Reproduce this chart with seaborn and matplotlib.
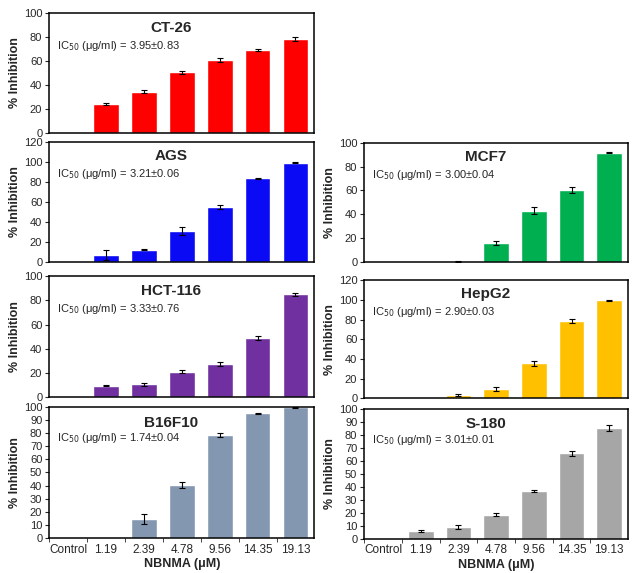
# -*- coding: utf-8 -*-
import numpy as np
import pandas as pd
import matplotlib
matplotlib.use('Agg')
import matplotlib.pyplot as plt
import seaborn as sns

# 濃度 (x 軸類別)
doses = ['Control', '1.19', '2.39', '4.78', '9.56', '14.35', '19.13']

# 各細胞株 % Inhibition 平均值與誤差
ct26 = [0, 24, 34.5, 50.5, 61, 69.5, 78.5]
ct26_err = [0, 1.0, 1.5, 1.0, 1.5, 1.0, 1.5]
ags = [0, 7, 12, 31, 55, 84, 99.5]
ags_err = [0, 5, 0.5, 4, 2, 0.5, 0.3]
hct116 = [0, 9.5, 10.5, 21, 27.5, 49, 85]
hct116_err = [0, 0.5, 1, 1, 1.5, 1.5, 1.5]
b16f10 = [0, 0, 14.5, 40.5, 78.5, 95, 99.5]
b16f10_err = [0, 0, 3.5, 2.5, 1.5, 0.5, 0.5]
mcf7 = [0, 0.5, 0.3, 16, 43, 60.5, 91.5]
mcf7_err = [0, 0, 0.3, 1.5, 3, 2.5, 0.3]
hepg2 = [0, 0.5, 3, 9, 35.5, 78.5, 99.5]
hepg2_err = [0, 0, 1, 2, 2.5, 2, 0.5]
s180 = [0, 6, 9, 18.5, 36.5, 65.5, 85]
s180_err = [0, 1, 1.5, 1, 1, 2, 2]

ic50 = {'CT-26': '3.95±0.83', 'AGS': '3.21±0.06', 'HCT-116': '3.33±0.76',
        'B16F10': '1.74±0.04', 'MCF7': '3.00±0.04', 'HepG2': '2.90±0.03',
        'S-180': '3.01±0.01'}

sns.set_style('white')
plt.rcParams['font.family'] = ['Liberation Sans', 'DejaVu Sans']

fig = plt.figure(figsize=(6.39, 5.73), dpi=100)

# (名稱, 值, 誤差, 顏色, 位置, y上限, y刻度間隔, 是否底部)
panels = [
    ('CT-26', ct26, ct26_err, '#FF0000', [0.077, 0.768, 0.415, 0.209], 100, 20, False),
    ('AGS', ags, ags_err, '#0A0AF5', [0.077, 0.543, 0.415, 0.209], 120, 20, False),
    ('HCT-116', hct116, hct116_err, '#7030A0', [0.077, 0.307, 0.415, 0.211], 100, 20, False),
    ('B16F10', b16f10, b16f10_err, '#8497B0', [0.077, 0.061, 0.415, 0.229], 100, 10, True),
    ('MCF7', mcf7, mcf7_err, '#00B050', [0.570, 0.543, 0.413, 0.208], 100, 20, False),
    ('HepG2', hepg2, hepg2_err, '#FFC000', [0.570, 0.305, 0.413, 0.206], 120, 20, False),
    ('S-180', s180, s180_err, '#A6A6A6', [0.570, 0.060, 0.413, 0.227], 100, 10, True),
]

for name, vals, errs, color, pos, ymax, step, bottom in panels:
    ax = fig.add_axes(pos)
    df = pd.DataFrame({'dose': doses, 'inh': vals, 'err': errs})
    sns.barplot(data=df, x='dose', y='inh', color=color, saturation=1,
                width=0.68, errorbar=None, ax=ax)
    idx = np.flatnonzero(df['err'] > 0)
    ax.errorbar(idx, df['inh'].values[idx], yerr=df['err'].values[idx], fmt='none',
                ecolor='black', elinewidth=0.8, capsize=2, capthick=0.8)
    ax.set_xlim(-0.5, 6.5)
    ax.set_ylim(0, ymax)
    ax.set_yticks(np.arange(0, ymax + 1, step))
    ax.tick_params(axis='y', labelsize=8, length=3, width=0.8, direction='out', pad=2, left=True)
    for s in ax.spines.values():
        s.set_color('black')
        s.set_linewidth(1.1)
    ax.set_ylabel('% Inhibition', fontsize=9, fontweight='bold', labelpad=2)
    if bottom:
        ax.tick_params(axis='x', labelsize=8.5, length=0, pad=4)
        ax.set_xticks(np.arange(-0.5, 6.5, 1), minor=True)
        ax.tick_params(axis='x', which='minor', length=3, width=0.6, bottom=True)
        ax.set_xlabel('NBNMA (μM)', fontsize=9, fontweight='bold', labelpad=2)
    else:
        ax.set_xticks([])
        ax.set_xlabel('')
    ax.text(0.46, 0.88, name, transform=ax.transAxes, ha='center', va='center',
            fontsize=11, fontweight='bold')
    ax.text(0.03, 0.73 if not bottom else 0.76, 'IC$_{50}$ (μg/ml) = ' + ic50[name],
            transform=ax.transAxes, ha='left', va='center', fontsize=8)

plt.savefig('out.png', dpi=100)
